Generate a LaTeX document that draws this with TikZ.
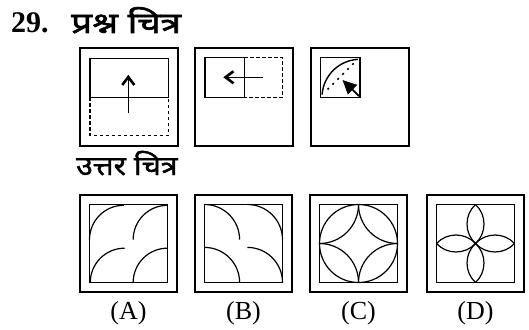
\documentclass[tikz,border=0pt]{standalone}
\usepackage{fontspec}
\setmainfont{Liberation Serif}
\newfontfamily\devaa[Script=Devanagari, FakeBold=2, FakeStretch=1.27]{Noto Sans}
\newfontfamily\devab[Script=Devanagari, FakeBold=1.5, FakeStretch=1.12]{Noto Sans}
\usetikzlibrary{arrows.meta,calc}
\begin{document}
\begin{tikzpicture}[x=1pt,y=-1pt,
  outerbox/.style={draw, line width=1.8pt, minimum size=97pt, inner sep=0pt, outer sep=0pt},
  innerbox/.style={draw, line width=1.5pt, minimum size=78pt, inner sep=0pt, outer sep=0pt},
  halfbox/.style={draw, line width=1.5pt, inner sep=0pt, outer sep=0pt},
  fig/.style={line width=1.2pt},
  dashline/.style={line width=1.2pt, dash pattern=on 3.5pt off 2.5pt},
  shaft/.style={line width=1.1pt},
  chevron/.style={line width=2.6pt, line join=miter, line cap=butt},
  label/.style={font=\fontsize{26}{26}\selectfont, anchor=base},
  hindi/.style={anchor=base west, inner sep=0pt}
]
\useasboundingbox (0,0) rectangle (529,329);

% title
\node[font=\bfseries\fontsize{30}{30}\selectfont, anchor=base west, inner sep=0pt] (num) at (11,33) {29.};
\node[hindi, font=\devaa\fontsize{29}{29}\selectfont] (t1) at (71,33) {प्रश्न चित्र};
\node[hindi, font=\devab\fontsize{27}{27}\selectfont] (t2) at (76,175) {उत्तर चित्र};

% question figure 1
\node[outerbox, minimum size=97.5pt] (q1) at (128.85,97.15) {};
\node[halfbox, minimum width=78.3pt, minimum height=39pt] (r1) at (129.15,77.8) {};
\draw[dashline] (r1.south west) -- ++(0,38.4) -| (r1.south east);
\coordinate (a1s) at (128.3,113.3);
\coordinate (a1e) at (128.3,77);
\draw[shaft] (a1s) -- (a1e);
\draw[chevron] ($(a1e)+(-6,8)$) -- (a1e) -- ($(a1e)+(6,8)$);

% question figure 2
\node[outerbox, minimum size=97.5pt] (q2) at (243.85,97.15) {};
\node[halfbox, minimum width=39.3pt, minimum height=39.6pt] (r2) at (224.65,77.5) {};
\draw[dashline] (r2.north east) -- (282.7,57.7) -- (282.7,97.3) -- (r2.south east);
\coordinate (a2s) at (262.7,77.3);
\coordinate (a2e) at (225.5,77.3);
\draw[shaft] (a2s) -- (a2e);
\draw[chevron] ($(a2e)+(8,-6)$) -- (a2e) -- ($(a2e)+(8,6)$);

% question figure 3
\node[outerbox, minimum size=97.5pt] (q3) at (359.85,97.15) {};
\node[halfbox, minimum width=39.3pt, minimum height=39.6pt] (r3) at (340.35,77.5) {};
\draw[line width=1.4pt] (r3.south east) ++(184:38) arc[start angle=184, end angle=267, radius=38];
\draw[line width=1.6pt, dash pattern=on 2pt off 5pt] (327.5,89.5) -- (356,61);
\coordinate (a3s) at (359,96);
\coordinate (a3e) at (342.5,80);
\draw[line width=1.8pt, -{Triangle[length=14pt,width=13pt]}] (a3s) -- (a3e);

% answer boxes
\node[outerbox] (oa) at (128.5,243.5) {};
\node[innerbox] (ia) at (128.5,243.5) {};
\node[outerbox] (ob) at (243.5,243.5) {};
\node[innerbox] (ib) at (243.5,243.5) {};
\node[outerbox] (oc) at (358.5,243.5) {};
\node[innerbox] (ic) at (358.5,243.5) {};
\node[outerbox] (od) at (475.5,243.5) {};
\node[innerbox] (id) at (475.5,243.5) {};

% A
\begin{scope}[shift={(ia.north west)}, x=78pt, y=-78pt]
  \draw[fig] (0,0.45) arc[start angle=180, end angle=270, radius=0.44];
  \draw[fig] (0.56,0.45) arc[start angle=180, end angle=270, radius=0.44];
  \draw[fig] (0.01,1) arc[start angle=180, end angle=270, radius=0.44];
  \draw[fig] (0.56,1) arc[start angle=180, end angle=270, radius=0.44];
\end{scope}
% B
\begin{scope}[shift={(ib.north west)}, x=78pt, y=-78pt]
  \draw[fig] (0,0) arc[start angle=270, end angle=360, radius=0.45];
  \draw[fig] (0.55,0) arc[start angle=270, end angle=360, radius=0.45];
  \draw[fig] (0,0.55) arc[start angle=270, end angle=360, radius=0.45];
  \draw[fig] (0.55,0.55) arc[start angle=270, end angle=360, radius=0.45];
\end{scope}
% C
\begin{scope}[shift={(ic.north west)}, x=78pt, y=-78pt]
  \draw[fig] (0.5,0.5) circle[radius=0.5];
  \draw[fig] (0.5,0) arc[start angle=0, end angle=90, radius=0.5];
  \draw[fig] (0.5,0) arc[start angle=180, end angle=90, radius=0.5];
  \draw[fig] (0.5,1) arc[start angle=180, end angle=270, radius=0.5];
  \draw[fig] (0.5,1) arc[start angle=360, end angle=270, radius=0.5];
\end{scope}
% D
\begin{scope}[shift={(id.north west)}, x=78pt, y=-78pt]
  \draw[fig] (0.5,0) to[bend left=48] (0.5,0.5) to[bend left=48] (0.5,0);
  \draw[fig] (0.5,1) to[bend left=48] (0.5,0.5) to[bend left=48] (0.5,1);
  \draw[fig] (0,0.5) to[bend left=48] (0.5,0.5) to[bend left=48] (0,0.5);
  \draw[fig] (1,0.5) to[bend left=48] (0.5,0.5) to[bend left=48] (1,0.5);
\end{scope}

% labels
\node[label] (la) at (128.5,319) {(A)};
\node[label] (lb) at (243.5,319) {(B)};
\node[label] (lc) at (358.5,319) {(C)};
\node[label] (ld) at (475.5,319) {(D)};
\end{tikzpicture}
\end{document}
